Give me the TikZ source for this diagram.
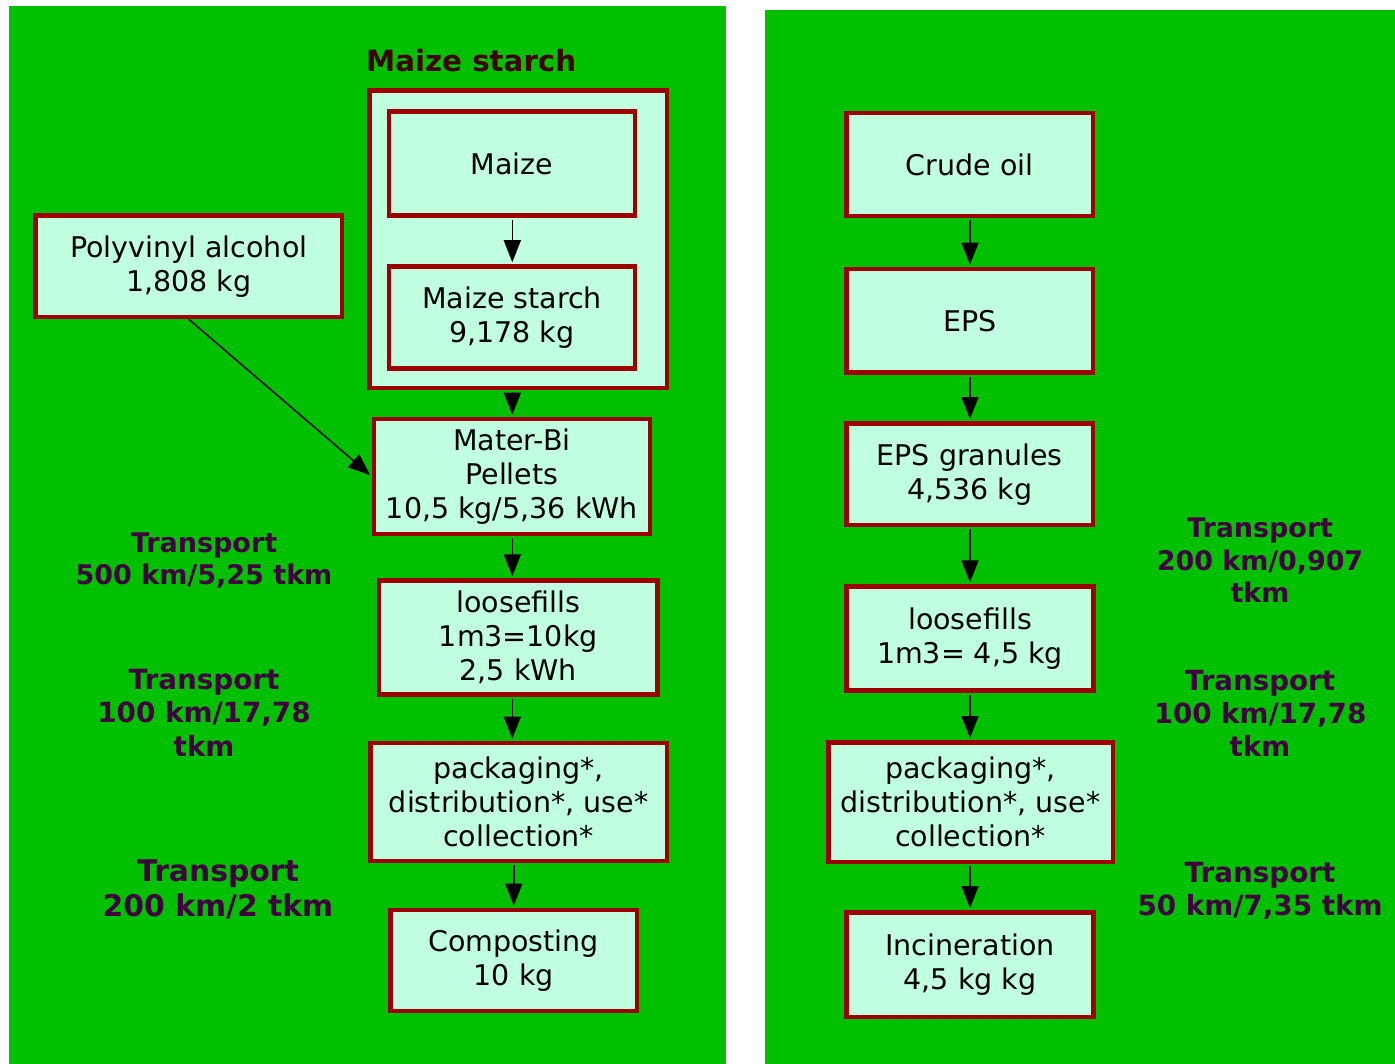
\documentclass[tikz,border=0pt]{standalone}
\usepackage{fontspec}
\setmainfont{DejaVu Sans}
\usetikzlibrary{arrows.meta}
\definecolor{bggreen}{HTML}{00C000}
\definecolor{boxfill}{HTML}{C0FFE0}
\definecolor{boxline}{HTML}{9E0000}
\definecolor{titlecol}{HTML}{400000}
\definecolor{labcol}{HTML}{400040}
\begin{document}
\begin{tikzpicture}[x=1pt,y=-1pt,
  flowbox/.style={draw=boxline, fill=boxfill, line width=4.5pt, inner sep=2pt, align=center,
    font=\fontsize{28.5}{34}\selectfont, text=black},
  arr/.style={line width=1.5pt, -{Triangle[length=22pt,width=17pt]}, shorten >=2pt, shorten <=2pt},
  translabel/.style={text=labcol, align=center, inner sep=0pt, anchor=north}
]
\useasboundingbox (0,0) rectangle (1395,1064);
\fill[white] (0,0) rectangle (1395,1064);
% panels
\fill[bggreen] (9,6) rectangle (726,1064);
\fill[bggreen] (765,10) rectangle (1395,1064);

% ---------- left panel ----------
\node[anchor=base west, inner sep=0pt, text=titlecol, font=\fontsize{29.3}{34}\bfseries\selectfont] (title) at (366,72) {Maize starch};
\node[flowbox, minimum width=297.5pt, minimum height=297.5pt] (group) at (518.3,239.5) {};
\node[flowbox, minimum width=246pt, minimum height=104pt] (maize) at (512,163.5) {Maize};
\node[flowbox, minimum width=246pt, minimum height=102pt] (mstarch) at (512,317.5) {Maize starch\\9,178 kg};
\node[flowbox, minimum width=306.5pt, minimum height=101.5pt] (pva) at (188.8,266.3) {Polyvinyl alcohol\\1,808 kg};
\node[flowbox, minimum width=275.8pt, minimum height=114.8pt] (mater) at (511.9,476.4) {Mater-Bi\\Pellets\\10,5 kg/5,36 kWh};
\node[flowbox, minimum width=278.8pt, minimum height=113.8pt] (loose1) at (518.3,637.5) {loosefills\\1m3=10kg\\2,5 kWh};
\node[flowbox, minimum width=296.2pt, minimum height=118.2pt] (pack1) at (518.7,802) {packaging*,\\distribution*, use*\\collection*};
\node[flowbox, minimum width=246.2pt, minimum height=101.2pt] (compost) at (513.7,960.5) {Composting\\10 kg};

\coordinate (colL) at (512.3,0);
\draw[arr] (maize.south -| colL) -- (mstarch.north -| colL);
\draw[arr] (group.south -| colL) -- (mater.north -| colL);
\draw[arr] (mater.south -| colL) -- (loose1.north -| colL);
\draw[arr] (loose1.south -| colL) -- (pack1.north -| colL);
\draw[arr] ([xshift=1.5pt]pack1.south -| colL) -- ([xshift=1.5pt]compost.north -| colL);
\draw[arr, shorten <=0pt] (pva.south) -- (mater.west);

\node[translabel, font=\fontsize{27}{32}\bfseries\selectfont] (tl1) at (204,533) {Transport\\500 km/5,25 tkm};
\node[translabel, font=\fontsize{27.8}{33.5}\bfseries\selectfont] (tl2) at (204,669) {Transport\\100 km/17,78\\tkm};
\node[translabel, font=\fontsize{29.8}{35}\bfseries\selectfont] (tl3) at (218,860) {Transport\\200 km/2 tkm};

% ---------- right panel ----------
\node[flowbox, minimum width=246.8pt, minimum height=103.2pt] (crude) at (969.7,164.5) {Crude oil};
\node[flowbox, minimum width=246.8pt, minimum height=103.8pt] (eps) at (969.7,320.8) {EPS};
\node[flowbox, minimum width=246.8pt, minimum height=101.8pt] (epsg) at (969.7,474.2) {EPS granules\\4,536 kg};
\node[flowbox, minimum width=246.8pt, minimum height=103.8pt] (loose2) at (970,638.5) {loosefills\\1m3=\ 4,5 kg};
\node[flowbox, minimum width=284.5pt, minimum height=119.5pt] (pack2) at (970.5,802) {packaging*,\\distribution*, use*\\collection*};
\node[flowbox, minimum width=246.8pt, minimum height=104.8pt] (incin) at (970,964.7) {Incineration\\4,5 kg kg};

\coordinate (colR) at (970,0);
\draw[arr] (crude.south -| colR) -- (eps.north -| colR);
\draw[arr] (eps.south -| colR) -- (epsg.north -| colR);
\draw[arr] (epsg.south -| colR) -- (loose2.north -| colR);
\draw[arr] (loose2.south -| colR) -- (pack2.north -| colR);
\draw[arr] (pack2.south -| colR) -- (incin.north -| colR);

\node[translabel, font=\fontsize{26.9}{32.5}\bfseries\selectfont] (tr1) at (1260,518) {Transport\\200 km/0,907\\tkm};
\node[translabel, font=\fontsize{27.7}{33}\bfseries\selectfont] (tr2) at (1260,670) {Transport\\100 km/17,78\\tkm};
\node[translabel, font=\fontsize{27.8}{33}\bfseries\selectfont] (tr3) at (1260,862) {Transport\\50 km/7,35 tkm};
\end{tikzpicture}
\end{document}
